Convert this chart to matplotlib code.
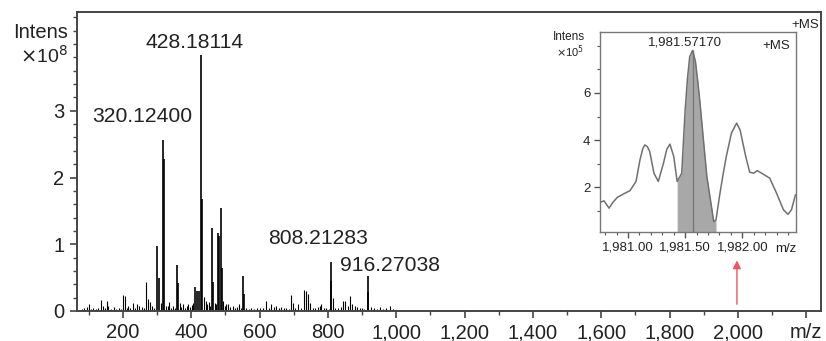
import matplotlib
matplotlib.use("Agg")
import matplotlib.pyplot as plt
import numpy as np
from matplotlib.ticker import MultipleLocator

plt.rcParams["font.family"] = ["Liberation Sans", "DejaVu Sans"]

# main spectrum: stick peaks (m/z, intensity x1e8)
major_mz = [300.4, 305.0, 316.0, 320.124, 358.6, 360.5, 410.0, 416.0, 422.0, 428.181, 430.0,
            461.0, 463.0, 479.0, 482.0, 487.5, 489.5, 550.0, 553.0, 808.213, 810.0, 916.270, 918.0]
major_int = [0.97, 0.50, 2.56, 2.27, 0.69, 0.42, 0.36, 0.30, 0.30, 3.84, 1.68,
             1.24, 0.43, 1.17, 1.12, 1.54, 0.64, 0.53, 0.25, 0.74, 0.45, 0.53, 0.29]

minor_mz = [80, 86, 94, 101.5, 107, 113, 120, 128, 135.6, 142, 147, 152, 157, 165, 173, 180, 188,
            195, 201, 206, 211, 216, 222, 228, 234, 240, 248, 255, 261, 267, 273, 280, 286, 292,
            310, 326, 331, 335.6, 341, 347, 352, 366, 370, 375, 381, 386, 390, 396, 401, 405,
            437, 442, 447, 452, 456, 468, 472, 494, 498, 503, 507, 514, 521, 528, 535, 541, 546,
            560, 568, 576, 584, 592, 600, 610, 619, 626, 634, 642, 649, 656, 663, 670, 678, 686,
            692, 697, 704, 712, 720, 729, 735, 742, 748, 756, 763, 770, 776, 781, 788, 795, 802,
            815, 822, 830, 838, 845, 850, 858, 865, 870, 879, 886, 893, 900, 906, 925, 935, 945,
            952, 960, 970, 981, 990, 1000, 1250, 1300, 1340, 1420, 1480, 1500, 1560, 1640, 1800, 1950]
minor_int = [0.03, 0.04, 0.065, 0.10, 0.03, 0.05, 0.03, 0.04, 0.165, 0.08, 0.05, 0.15, 0.07, 0.03, 0.06, 0.03, 0.04,
             0.03, 0.24, 0.23, 0.05, 0.07, 0.04, 0.12, 0.05, 0.11, 0.07, 0.06, 0.04, 0.435, 0.18, 0.14, 0.08, 0.05,
             0.12, 0.08, 0.08, 0.13, 0.05, 0.08, 0.04, 0.12, 0.06, 0.10, 0.05, 0.08, 0.10, 0.06, 0.09, 0.12,
             0.21, 0.15, 0.10, 0.13, 0.08, 0.12, 0.10, 0.15, 0.08, 0.10, 0.10, 0.06, 0.08, 0.04, 0.06, 0.10, 0.05,
             0.04, 0.03, 0.05, 0.03, 0.04, 0.05, 0.04, 0.15, 0.05, 0.10, 0.06, 0.08, 0.04, 0.06, 0.04, 0.05, 0.03,
             0.24, 0.12, 0.05, 0.10, 0.05, 0.31, 0.30, 0.25, 0.12, 0.05, 0.04, 0.06, 0.08, 0.10, 0.04, 0.05, 0.03,
             0.20, 0.05, 0.04, 0.06, 0.15, 0.15, 0.08, 0.22, 0.10, 0.08, 0.06, 0.05, 0.04, 0.03, 0.06, 0.04, 0.03,
             0.06, 0.03, 0.04, 0.07, 0.03, 0.02, 0.02, 0.02, 0.02, 0.02, 0.02, 0.02, 0.02, 0.02, 0.02, 0.02]

peak_labels = ["428.18114", "320.12400", "808.21283", "916.27038"]
label_pos = [(411.0, 4.03), (255.0, 2.91), (771.0, 1.08), (981.0, 0.675)]

main_xticks = [200, 400, 600, 800, 1000, 1200, 1400, 1600, 1800, 2000, 2200]
main_xticklabels = ["200", "400", "600", "800", "1,000", "1,200", "1,400", "1,600", "1,800", "2,000", "m/z"]
main_yticks = [0, 1, 2, 3]

# inset: zoomed profile around m/z 1981.57 (intensity x1e5)
inset_mz = [1980.755, 1980.79, 1980.834, 1980.87, 1980.907, 1980.96, 1981.017, 1981.07, 1981.105,
            1981.13, 1981.148, 1981.17, 1981.19, 1981.227, 1981.265, 1981.31, 1981.34, 1981.367,
            1981.40, 1981.43, 1981.47, 1981.50, 1981.52, 1981.54, 1981.565, 1981.59, 1981.61,
            1981.63, 1981.66, 1981.69, 1981.73, 1981.75, 1981.77, 1981.80, 1981.83, 1981.86,
            1981.905, 1981.95, 1981.98, 1982.03, 1982.065, 1982.10, 1982.13, 1982.18, 1982.24,
            1982.30, 1982.36, 1982.40, 1982.43, 1982.465]
inset_int = [1.36, 1.43, 1.12, 1.38, 1.58, 1.72, 1.86, 2.25, 3.17,
             3.65, 3.80, 3.72, 3.52, 2.60, 2.25, 3.02, 3.62, 3.83,
             3.31, 2.25, 2.60, 5.28, 6.60, 7.54, 7.80, 7.33, 6.50,
             5.57, 4.01, 2.46, 1.19, 0.55, 0.62, 1.61, 2.50, 3.31,
             4.30, 4.72, 4.44, 3.31, 2.64, 2.60, 2.71, 2.57, 2.39,
             1.75, 1.05, 0.86, 1.05, 1.68]
inset_peak = 1981.565
inset_peak_label = "1,981.57170"
shade_range = (1981.43, 1981.77)
inset_xticks = [1981.0, 1981.5, 1982.0]
inset_xticklabels = ["1,981.00", "1,981.50", "1,982.00"]
inset_yticks = [2, 4, 6]

fig = plt.figure(figsize=(8.26, 3.41), dpi=100)
ax = fig.add_axes([0.0932, 0.088, 0.9007, 0.8768])

ax.vlines(minor_mz, 0, minor_int, color="black", lw=0.8)
ax.vlines(major_mz, 0, major_int, color="black", lw=1.2)

ax.set_xlim(65.4, 2243)
ax.set_ylim(0, 4.48)
ax.set_xticks(main_xticks)
ax.set_xticklabels(main_xticklabels)
ax.xaxis.set_minor_locator(MultipleLocator(100))
ax.set_yticks(main_yticks)
ax.yaxis.set_minor_locator(MultipleLocator(0.2))
ax.tick_params(axis="both", which="major", labelsize=14.5, colors="#444444",
               labelcolor="#222222", length=5, width=1.2, pad=4)
ax.tick_params(axis="both", which="minor", colors="#444444", length=3, width=1.0)
for s in ax.spines.values():
    s.set_color("#444444")
    s.set_linewidth(1.4)

for txt, (x, y) in zip(peak_labels, label_pos):
    ax.text(x, y, txt, fontsize=15.2, ha="center", va="center", color="#222222")

ax.text(-0.012, 4.18, "Intens", transform=ax.get_yaxis_transform(), ha="right", va="center",
        fontsize=14.5, color="#222222")
ax.text(-0.012, 3.82, r"$\times$10$^{8}$", transform=ax.get_yaxis_transform(), ha="right",
        va="center", fontsize=14, color="#222222")
ax.text(0.998, 0.975, "+MS", transform=ax.transAxes, ha="right", va="top", fontsize=9.5, color="#222222")

# red arrow pointing to the zoomed peak
ax.annotate("", xy=(1997, 0.8), xytext=(1997, 0.06),
            arrowprops=dict(arrowstyle="-|>", color="#ee5560", lw=1.0, mutation_scale=12))

# inset
ins = fig.add_axes([0.7264, 0.3196, 0.2373, 0.5866])
x = np.array(inset_mz)
y = np.array(inset_int)
mask = (x >= shade_range[0]) & (x <= shade_range[1])
ins.fill_between(x[mask], 0, y[mask], color="#a8a8a8", lw=0)
ins.vlines(inset_peak, 0, max(inset_int), color="#777777", lw=1.0)
ins.plot(x, y, color="#707070", lw=1.1)
ins.set_xlim(1980.755, 1982.47)
ins.set_ylim(0.11, 8.58)
ins.set_xticks(inset_xticks)
ins.set_xticklabels(inset_xticklabels)
ins.xaxis.set_minor_locator(MultipleLocator(0.1))
ins.set_yticks(inset_yticks)
ins.yaxis.set_minor_locator(MultipleLocator(1))
ins.tick_params(axis="both", which="major", labelsize=9.5, colors="#555555",
                labelcolor="#222222", length=4, width=1.0, pad=3)
ins.tick_params(axis="both", which="minor", colors="#555555", length=2.5, width=0.8)
for s in ins.spines.values():
    s.set_color("#777777")
    s.set_linewidth(1.0)

ins.text(inset_peak - 0.07, 8.15, inset_peak_label, ha="center", va="center", fontsize=9.5, color="#222222")
ins.text(0.97, 0.96, "+MS", transform=ins.transAxes, ha="right", va="top", fontsize=9.5, color="#222222")
ins.text(-0.075, 0.975, "Intens", transform=ins.transAxes, ha="right", va="center", fontsize=8.5, color="#222222")
ins.text(-0.08, 0.90, r"$\times$10$^{5}$", transform=ins.transAxes, ha="right", va="center",
         fontsize=8, color="#222222")
ins.text(0.95, -0.055, "m/z", transform=ins.transAxes, ha="center", va="top", fontsize=9.5, color="#222222")

fig.savefig("out.png", dpi=100)
